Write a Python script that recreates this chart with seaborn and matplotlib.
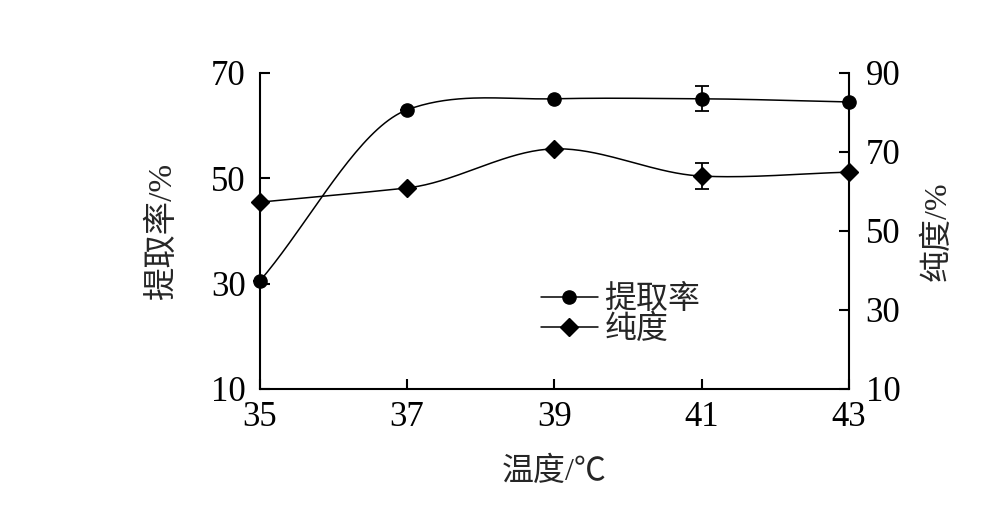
import numpy as np
import pandas as pd
import matplotlib
matplotlib.use('Agg')
import matplotlib.pyplot as plt
from matplotlib.lines import Line2D
import seaborn as sns

# dados
temperatura = [35, 37, 39, 41, 43]
tiqu_lv = [30.5, 63.0, 65.1, 65.1, 64.5]      # 提取率 (eixo esquerdo)
tiqu_err = [0, 0, 0, 2.4, 0]
chundu = [57.3, 60.9, 70.8, 63.9, 64.9]       # 纯度 (eixo direito)
chundu_err = [0, 0, 0, 3.3, 0]
xticks = [35, 37, 39, 41, 43]
yticks_left = [10, 30, 50, 70]
yticks_right = [10, 30, 50, 70, 90]


def suavizar(x, y, n=40, tensao=0.6):
    # curva suave (Catmull-Rom) so para desenhar a linha entre os pontos
    x = np.asarray(x, float)
    y = np.asarray(y, float)
    m = np.zeros_like(y)
    m[1:-1] = (y[2:] - y[:-2]) / (x[2:] - x[:-2]) * tensao
    m[0] = (y[1] - y[0]) / (x[1] - x[0])
    m[-1] = (y[-1] - y[-2]) / (x[-1] - x[-2])
    xs, ys = [], []
    for i in range(len(x) - 1):
        h = x[i + 1] - x[i]
        t = np.linspace(0, 1, n, endpoint=False)
        h00 = 2 * t**3 - 3 * t**2 + 1
        h10 = t**3 - 2 * t**2 + t
        h01 = -2 * t**3 + 3 * t**2
        h11 = t**3 - t**2
        xs.append(x[i] + t * h)
        ys.append(h00 * y[i] + h10 * h * m[i] + h01 * y[i + 1] + h11 * h * m[i + 1])
    xs.append([x[-1]])
    ys.append([y[-1]])
    return np.concatenate(xs), np.concatenate(ys)


sns.set_style('ticks')
plt.rcParams['font.family'] = ['Liberation Serif', 'Noto Sans CJK SC']
plt.rcParams['axes.unicode_minus'] = False

fig = plt.figure(figsize=(10.07, 5.09), dpi=100)
ax = fig.add_axes([0.258, 0.2358, 0.585, 0.6208])
ax2 = ax.twinx()

# 提取率
sx, sy = suavizar(temperatura, tiqu_lv)
sns.lineplot(x=sx, y=sy, ax=ax, color='k', lw=1.1, sort=False)
ax.errorbar(temperatura, tiqu_lv, yerr=tiqu_err, fmt='o', color='k',
            ms=9.5, capsize=5, elinewidth=1.3, capthick=1.3, clip_on=False, zorder=5)

# 纯度
sx2, sy2 = suavizar(temperatura, chundu)
sns.lineplot(x=sx2, y=sy2, ax=ax2, color='k', lw=1.1, sort=False)
ax2.errorbar(temperatura, chundu, yerr=chundu_err, fmt='D', color='k',
             ms=9, capsize=5, elinewidth=1.3, capthick=1.3, clip_on=False, zorder=5)

ax.set_xlim(35, 43)
ax.set_ylim(10, 70)
ax2.set_ylim(10, 90)
ax.set_xticks(xticks)
ax.set_yticks(yticks_left)
ax2.set_yticks(yticks_right)

for a in (ax, ax2):
    a.spines['top'].set_visible(False)
    for s in a.spines.values():
        s.set_linewidth(1.5)
        s.set_color('k')
    a.tick_params(direction='in', length=7, width=1.5, labelsize=25, colors='k')
ax.spines['right'].set_visible(False)
ax2.spines['left'].set_visible(False)
ax2.spines['bottom'].set_visible(False)
ax.tick_params(axis='x', pad=9)
ax.tick_params(axis='y', pad=10)
ax2.tick_params(axis='y', pad=12)

ax.set_xlabel('温度/℃', fontsize=23, labelpad=16)
ax.set_ylabel('提取率/%', fontsize=24, labelpad=24)
ax2.set_ylabel('纯度/%', fontsize=23, labelpad=16)

handles = [
    Line2D([], [], color='k', lw=1.1, marker='o', ms=9.5),
    Line2D([], [], color='k', lw=1.1, marker='D', ms=9),
]
ax.legend(handles, ['提取率', '纯度'], loc='upper left', bbox_to_anchor=(0.455, 0.37),
          frameon=False, fontsize=23, handlelength=1.8, handletextpad=0.2,
          labelspacing=0.0, borderaxespad=0)

fig.savefig('out.png', dpi=100)
